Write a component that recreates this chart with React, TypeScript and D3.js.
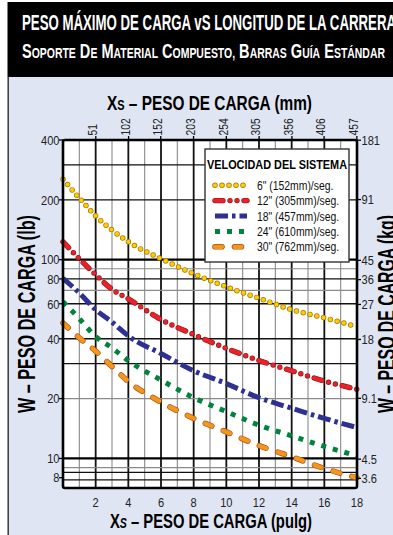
import React from 'react';
import * as d3 from 'd3';

// ---------- data ----------
const X_IN = [0, 1, 2, 3, 4, 6, 8, 10, 12, 14, 16, 18];
const W_6 = [254, 204, 166, 141, 123, 101, 85, 73, 64, 56, 51, 46];
const W_12 = [123, 101, 84, 71, 63.5, 50, 42, 35.8, 31.1, 27.6, 24.5, 22.3];
const W_18 = [80.6, 68, 56, 48.5, 41.3, 33.7, 27.6, 23.8, 20.2, 17.9, 15.9, 14.3];
const W_24 = [61.5, 50.5, 41, 36, 31, 24.8, 20.2, 17.2, 14.7, 13, 11.5, 10.3];
const W_30 = [48, 40.4, 34.7, 29, 24.4, 19.2, 15.9, 13.6, 11.6, 10.2, 8.9, 8.0];
const SERIES_LABELS = [
  '6" (152mm)/seg.',
  '12" (305mm)/seg.',
  '18" (457mm)/seg.',
  '24" (610mm)/seg.',
  '30" (762mm)/seg.',
];
const LB_TICKS = [400, 200, 100, 80, 60, 40, 20, 10, 8];
const KG_TICKS = [181, 91, 45, 36, 27, 18, 9.1, 4.5, 3.6];
const IN_TICKS = [2, 4, 6, 8, 10, 12, 14, 16, 18];
const MM_TICKS = [51, 102, 152, 203, 254, 305, 356, 406, 457];
const GRID_LB_DARK = [300, 200, 80, 60, 40, 30, 8.5, 7.8];
const GRID_LB_THICK = [100, 10];
const GRID_LB_LIGHT = [90, 70, 20, 9];
const GRID_IN = d3.range(1, 18);

const TITLE1 = 'PESO MÁXIMO DE CARGA vS LONGITUD DE LA CARRERA';
const TITLE2 = 'Soporte De Material Compuesto, Barras Guía Estándar';
const LEGEND_TITLE = 'VELOCIDAD DEL SISTEMA';

// ---------- layout ----------
const W = 393;
const H = 535;
const M = { left: 63, right: 357, top: 140, bottom: 488 };
const FONT = '"Liberation Sans", Arial, Helvetica, sans-serif';

const x = d3.scaleLinear().domain([0, 18]).range([M.left, M.right]);
const xMm = d3.scaleLinear().domain([0, 18 * 25.4]).range([M.left, M.right]);
const y = d3.scaleLog().domain([7.1, 400]).range([M.bottom, M.top]);
const yKg = d3.scaleLog().domain([7.1 / 2.2046, 400 / 2.2046]).range([M.bottom, M.top]);

type Layer = { stroke: string; w: number; dash: string; cap: 'round' | 'butt' };
const STYLES: Layer[][] = [
  [
    { stroke: '#a87800', w: 5.5, dash: '0 7', cap: 'round' },
    { stroke: '#ffcc00', w: 4.1, dash: '0 7', cap: 'round' },
  ],
  [
    { stroke: '#8e1414', w: 5.4, dash: '8 7 0 7 0 7', cap: 'round' },
    { stroke: '#e8212a', w: 4.2, dash: '8 7 0 7 0 7', cap: 'round' },
  ],
  [{ stroke: '#2e3192', w: 5, dash: '13 4 3.5 4', cap: 'butt' }],
  [{ stroke: '#00843d', w: 5, dash: '5 7', cap: 'butt' }],
  [
    { stroke: '#a4560e', w: 5.6, dash: '7 12.5', cap: 'round' },
    { stroke: '#f7941d', w: 4.3, dash: '7 12.5', cap: 'round' },
  ],
];
const SERIES = [W_6, W_12, W_18, W_24, W_30];

const line = d3
  .line<[number, number]>()
  .x((d) => x(d[0]))
  .y((d) => y(d[1]))
  .curve(d3.curveMonotoneX);

function Curve({ vals, style }: { vals: number[]; style: Layer[] }) {
  const pts = X_IN.map((xi, i) => [xi, vals[i]] as [number, number]);
  const d = line(pts) || '';
  return (
    <g>
      {style.map((s, i) => (
        <path key={i} d={d} fill="none" stroke={s.stroke} strokeWidth={s.w} strokeDasharray={s.dash} strokeLinecap={s.cap} />
      ))}
    </g>
  );
}

function SmallCaps({ text, big, small }: { text: string; big: number; small: number }) {
  const words = text.split(' ');
  const out: any[] = [];
  words.forEach((w, i) => {
    out.push(
      <tspan key={'b' + i} fontSize={big}>
        {(i > 0 ? ' ' : '') + w[0].toUpperCase()}
      </tspan>
    );
    out.push(
      <tspan key={'s' + i} fontSize={small}>
        {w.slice(1).toUpperCase()}
      </tspan>
    );
  });
  return <>{out}</>;
}

export default function App() {
  const legendX = 205;
  const legendY = 149;
  const rowY = (i: number) => 185.2 + i * 15.4;
  return (
    <svg
      width={W}
      height={H}
      viewBox={`0 0 ${W} ${H}`}
      style={{ position: 'absolute', left: 0, top: 0, background: '#fff' }}
      fontFamily={FONT}
    >
      {/* header */}
      <rect x={7.5} y={2} width={W} height={75} fill="#000" />
      <text x={22} y={29.5} fill="#fff" fontSize={22} fontWeight="bold" textLength={374} lengthAdjust="spacingAndGlyphs">
        {TITLE1}
      </text>
      <text x={22} y={58.3} fill="#fff" fontWeight="bold" textLength={363} lengthAdjust="spacingAndGlyphs">
        <SmallCaps text={TITLE2} big={19.5} small={14} />
      </text>

      {/* panel */}
      <rect x={8.5} y={77} width={W} height={H} fill="#dfe5f3" />
      <line x1={8.2} x2={8.2} y1={77} y2={H} stroke="#444" strokeWidth={1.6} />

      {/* plot bg */}
      <rect x={M.left} y={M.top} width={M.right - M.left} height={M.bottom - M.top} fill="#fff" />

      {/* vertical grid */}
      {GRID_IN.map((v) => (
        <line
          key={'v' + v}
          x1={x(v)}
          x2={x(v)}
          y1={M.top}
          y2={M.bottom}
          stroke={v % 2 === 0 ? '#111' : '#8a8a8a'}
          strokeWidth={v % 2 === 0 ? 1.8 : 1.1}
        />
      ))}
      {/* horizontal grid */}
      {GRID_LB_LIGHT.map((v) => (
        <line key={'hl' + v} x1={M.left} x2={M.right} y1={y(v)} y2={y(v)} stroke="#8a8a8a" strokeWidth={1.2} />
      ))}
      {GRID_LB_DARK.map((v) => (
        <line key={'hd' + v} x1={M.left} x2={M.right} y1={y(v)} y2={y(v)} stroke="#111" strokeWidth={1.3} />
      ))}
      {GRID_LB_THICK.map((v) => (
        <line key={'ht' + v} x1={M.left} x2={M.right} y1={y(v)} y2={y(v)} stroke="#000" strokeWidth={2.2} />
      ))}

      {/* curves */}
      {SERIES.map((s, i) => (
        <Curve key={i} vals={s} style={STYLES[i]} />
      ))}

      {/* frame */}
      <rect
        x={M.left}
        y={M.top}
        width={M.right - M.left}
        height={M.bottom - M.top}
        fill="none"
        stroke="#000"
        strokeWidth={2.6}
        rx={2}
      />

      {/* left ticks + labels */}
      {LB_TICKS.map((v) => (
        <g key={'l' + v}>
          <line x1={M.left - 4} x2={M.left} y1={y(v)} y2={y(v)} stroke="#000" strokeWidth={1.3} />
          <text
            transform={`translate(${M.left - 3.5},${y(v) + 4.8}) scale(0.82,1)`}
            textAnchor="end"
            fontSize={13.5}
            fill="#222"
          >
            {v}
          </text>
        </g>
      ))}
      {/* right ticks + labels */}
      {KG_TICKS.map((v) => (
        <g key={'r' + v}>
          <line x1={M.right} x2={M.right + 4} y1={yKg(v)} y2={yKg(v)} stroke="#000" strokeWidth={1.3} />
          <text
            transform={`translate(${M.right + 4.5},${yKg(v) + 4.8}) scale(0.82,1)`}
            fontSize={13.5}
            fill="#222"
          >
            {v}
          </text>
        </g>
      ))}
      {/* bottom labels */}
      {IN_TICKS.map((v) => (
        <text
          key={'b' + v}
          transform={`translate(${x(v)},${506.7}) scale(0.82,1)`}
          textAnchor="middle"
          fontSize={13.5}
          fill="#222"
        >
          {v}
        </text>
      ))}
      {/* top mm ticks + labels */}
      {MM_TICKS.map((v) => (
        <g key={'t' + v}>
          <line x1={xMm(v)} x2={xMm(v)} y1={M.top - 4} y2={M.top} stroke="#000" strokeWidth={1.3} />
          <text
            transform={`translate(${xMm(v) + 1.2},${135.5}) rotate(-90) scale(0.82,1)`}
            fontSize={12.5}
            fill="#222"
          >
            {v}
          </text>
        </g>
      ))}

      {/* axis titles */}
      <text x={107} y={110} fontSize={21} fontWeight="bold" textLength={205} lengthAdjust="spacingAndGlyphs" fill="#000">
        X<tspan fontSize={15}>S</tspan> – PESO DE CARGA (mm)
      </text>
      <text x={110} y={528} fontSize={21} fontWeight="bold" textLength={202} lengthAdjust="spacingAndGlyphs" fill="#000">
        X<tspan fontSize={15} fontStyle="italic">S</tspan> – PESO DE CARGA (pulg)
      </text>
      <text
        transform={`translate(34.5,314) rotate(-90)`}
        textAnchor="middle"
        fontSize={23}
        fontWeight="bold"
        textLength={198}
        lengthAdjust="spacingAndGlyphs"
        fill="#000"
      >
        W – PESO DE CARGA (lb)
      </text>
      <text
        transform={`translate(394.5,314) rotate(-90)`}
        textAnchor="middle"
        fontSize={23}
        fontWeight="bold"
        textLength={198}
        lengthAdjust="spacingAndGlyphs"
        fill="#000"
      >
        W – PESO DE CARGA (kg)
      </text>

      {/* legend */}
      <rect x={legendX} y={legendY} width={144} height={113} fill="#fff" stroke="#333" strokeWidth={1.4} />
      <text x={207} y={168.5} fontSize={12.5} fontWeight="bold" textLength={140} lengthAdjust="spacingAndGlyphs" fill="#000">
        {LEGEND_TITLE}
      </text>
      {SERIES_LABELS.map((lab, i) => (
        <g key={'lg' + i}>
          {STYLES[i].map((s, j) => (
            <line
              key={j}
              x1={215}
              x2={247}
              y1={rowY(i)}
              y2={rowY(i)}
              stroke={s.stroke}
              strokeWidth={s.w}
              strokeDasharray={s.dash}
              strokeLinecap={s.cap}
            />
          ))}
          <text transform={`translate(257,${rowY(i) + 4.6}) scale(0.77,1)`} fontSize={13.5} fill="#111">
            {lab}
          </text>
        </g>
      ))}
    </svg>
  );
}
